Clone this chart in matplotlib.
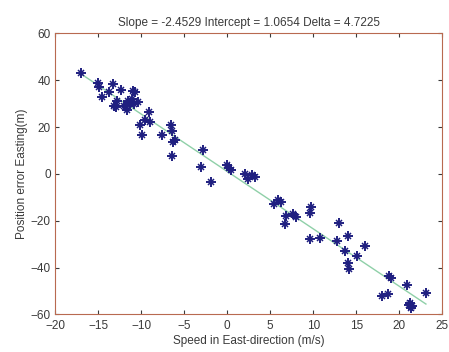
import matplotlib
matplotlib.use('Agg')
import matplotlib.pyplot as plt
import numpy as np

# data
speed = [-17.0, -15.0, -14.9, -14.5, -13.7, -13.3, -13.2, -12.8, -12.9, -12.3,
         -12.0, -11.6, -11.3, -11.0, -10.9, -10.7, -10.8, -10.3, -11.5, -11.8,
         -10.1, -9.9, -9.5, -9.1, -9.0, -7.6, -6.5, -6.4, -6.3, -6.0,
         -6.4, -2.8, -3.0, -1.9, 0.0, 0.2, 0.4, 2.1, 2.4, 2.9,
         3.2, 5.4, 5.9, 6.3, 6.7, 6.9, 7.7, 8.0, 9.6, 9.7,
         9.6, 10.8, 12.8, 13.0, 13.7, 14.0, 14.0, 14.2, 15.1, 16.0,
         18.0, 18.7, 18.8, 19.1, 20.9, 21.1, 21.3, 21.4, 21.5, 23.1]
pos_err = [43.0, 39.0, 37.0, 33.0, 35.0, 38.5, 29.0, 31.0, 28.5, 36.0,
           29.0, 27.5, 30.0, 32.0, 35.5, 35.0, 30.0, 30.5, 31.0, 29.0,
           21.0, 16.5, 23.0, 26.5, 22.0, 16.5, 21.0, 18.5, 13.5, 14.5,
           7.5, 10.0, 3.0, -3.5, 4.0, 2.5, 1.5, 0.0, -2.0, -0.5,
           -1.5, -13.0, -11.0, -12.0, -21.5, -18.0, -17.0, -18.5, -16.5, -14.0,
           -28.0, -27.5, -28.5, -21.0, -33.0, -26.5, -38.0, -40.5, -35.0, -31.0,
           -52.0, -51.5, -43.5, -44.5, -47.5, -56.0, -55.0, -57.5, -56.5, -51.0]

slope = -2.4529
intercept = 1.0654
delta = 4.7225

text_col = '#3a3a3a'
plt.rcParams['font.family'] = ['Liberation Sans', 'DejaVu Sans']

fig = plt.figure(figsize=(4.49, 3.52), dpi=100)
ax = fig.add_axes([0.1225, 0.107, 0.8625, 0.798])

xs = np.array([min(speed), max(speed)])
ax.plot(xs, slope * xs + intercept, color='#8fd0a8', lw=1.0, zorder=1)
# MATLAB style asterisk: plus + smaller x
ax.plot(speed, pos_err, linestyle='none', marker='+', markersize=6.5,
        markeredgewidth=1.4, color='#1f1f80', zorder=2)
ax.plot(speed, pos_err, linestyle='none', marker='x', markersize=4,
        markeredgewidth=1.1, color='#1f1f80', zorder=2)

ax.set_xlim(-20, 25)
ax.set_ylim(-60, 60)
ax.set_xticks(np.arange(-20, 26, 5))
ax.set_yticks(np.arange(-60, 61, 20))
ax.tick_params(direction='in', top=True, right=True, labelsize=8.5,
               colors=text_col, length=3, width=0.8)
ax.tick_params(axis='x', pad=4)
ax.tick_params(axis='y', pad=3)
for s in ax.spines.values():
    s.set_color('#b86a50')
    s.set_linewidth(0.8)

ax.set_title(f'Slope = {slope:.4f} Intercept = {intercept:.4f} Delta = {delta:.4f}',
             fontsize=8.5, color=text_col, pad=5)
ax.set_xlabel('Speed in East-direction (m/s)', fontsize=8.5, color=text_col, labelpad=2)
ax.set_ylabel('Position error Easting(m)', fontsize=8.5, color=text_col, labelpad=2)

fig.savefig('out.png', dpi=100)
